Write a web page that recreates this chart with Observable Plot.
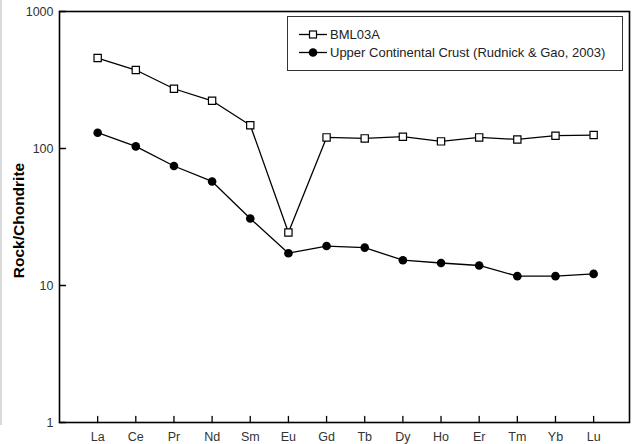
<!DOCTYPE html>
<html>
<head>
<meta charset="utf-8">
<script src="https://cdn.jsdelivr.net/npm/d3@7"></script>
<script src="https://cdn.jsdelivr.net/npm/@observablehq/plot@0.6"></script>
<style>
  html, body { margin: 0; padding: 0; background: #fff; }
  #wrap { position: relative; width: 632px; height: 444px; }
  #edge { position: absolute; left: 0; top: 0; width: 2px; height: 425px; background: #d9d9d9; }
</style>
</head>
<body>
<div id="wrap"><div id="edge"></div></div>
<script>
const elements = ["La","Ce","Pr","Nd","Sm","Eu","Gd","Tb","Dy","Ho","Er","Tm","Yb","Lu"];
const bml03a = [457, 374, 273, 223, 148, 24.4, 120.5, 118.5, 122, 112.7, 120.5, 116.5, 124, 125.4];
const ucc = [130.4, 103.6, 74.5, 57.5, 30.8, 17.2, 19.4, 18.9, 15.3, 14.6, 14.0, 11.7, 11.7, 12.15];
const yTicks = [1, 10, 100, 1000];
const seriesNames = ["BML03A", "Upper Continental Crust (Rudnick & Gao, 2003)"];
const yLabel = "Rock/Chondrite";

const bmlData = elements.map((e, i) => ({i: i + 1, el: e, v: bml03a[i]}));
const uccData = elements.map((e, i) => ({i: i + 1, el: e, v: ucc[i]}));
const xTickIdx = d3.range(1, elements.length + 1);

// a plain line segment shape for inward tick marks
const tickShape = {draw(context, l) { context.moveTo(0, 0); context.lineTo(0, -l); }};

const svg = Plot.plot({
  width: 632,
  height: 444,
  marginLeft: 59,
  marginRight: 3,
  marginTop: 11,
  marginBottom: 22,
  style: {fontFamily: "'Liberation Sans', Arial, sans-serif", fontSize: "12.5px", color: "#111", background: "transparent", overflow: "visible"},
  x: {type: "linear", domain: [0, 14.94]},
  y: {type: "log", domain: [1, 1000]},
  marks: [
    Plot.axisX({ticks: xTickIdx, tickFormat: i => elements[i - 1], tickSize: 0, tickPadding: 10, label: null, fill: "#333"}),
    Plot.axisY({ticks: yTicks, tickFormat: d => String(d), tickSize: 0, tickPadding: 6, label: null, fill: "#333"}),
    Plot.vector(xTickIdx, {x: d => d, frameAnchor: "bottom", length: 6, anchor: "start", rotate: 0, shape: tickShape, stroke: "black", strokeWidth: 1.3}),
    Plot.vector(yTicks, {y: d => d, frameAnchor: "left", length: 6, anchor: "start", rotate: 90, shape: tickShape, stroke: "black", strokeWidth: 1.3}),
    Plot.line(bmlData, {x: "i", y: "v", stroke: "black", strokeWidth: 1.3}),
    Plot.line(uccData, {x: "i", y: "v", stroke: "black", strokeWidth: 1.3}),
    Plot.dot(uccData, {x: "i", y: "v", r: 4.3, fill: "black"}),
    Plot.dot(bmlData, {x: "i", y: "v", symbol: "square", r: 4.1, fill: "white", stroke: "black", strokeWidth: 1.2}),
    Plot.frame({stroke: "black", strokeWidth: 1.6}),
    Plot.text([yLabel], {frameAnchor: "left", textAnchor: "middle", dx: -40, dy: 3.5, rotate: -90, fontWeight: "bold", fontSize: 15.5, fill: "#000"})
  ]
});

// legend inside the plot area
const g = d3.select(svg).append("g")
  .attr("font-family", "'Liberation Sans', Arial, sans-serif")
  .attr("font-size", 13)
  .attr("text-anchor", "start");
g.append("rect").attr("x", 287.5).attr("y", 16.5).attr("width", 335).attr("height", 54)
  .attr("fill", "white").attr("stroke", "#333").attr("stroke-width", 1);
const rows = [
  {name: seriesNames[0], y: 34.5, sym: "square"},
  {name: seriesNames[1], y: 52.5, sym: "circle"}
];
rows.forEach(r => {
  g.append("line").attr("x1", 299).attr("x2", 327).attr("y1", r.y).attr("y2", r.y).attr("stroke", "black").attr("stroke-width", 1.3);
  if (r.sym === "square") {
    g.append("rect").attr("x", 309.5).attr("y", r.y - 3.5).attr("width", 7).attr("height", 7)
      .attr("fill", "white").attr("stroke", "black").attr("stroke-width", 1.2);
  } else {
    g.append("circle").attr("cx", 313).attr("cy", r.y).attr("r", 4.3).attr("fill", "black");
  }
  g.append("text").attr("x", 330).attr("y", r.y).attr("dy", "0.35em").attr("fill", "#222").text(r.name);
});

document.getElementById("wrap").appendChild(svg);
svg.style.position = "absolute";
svg.style.left = "0";
svg.style.top = "0";
</script>
</body>
</html>
